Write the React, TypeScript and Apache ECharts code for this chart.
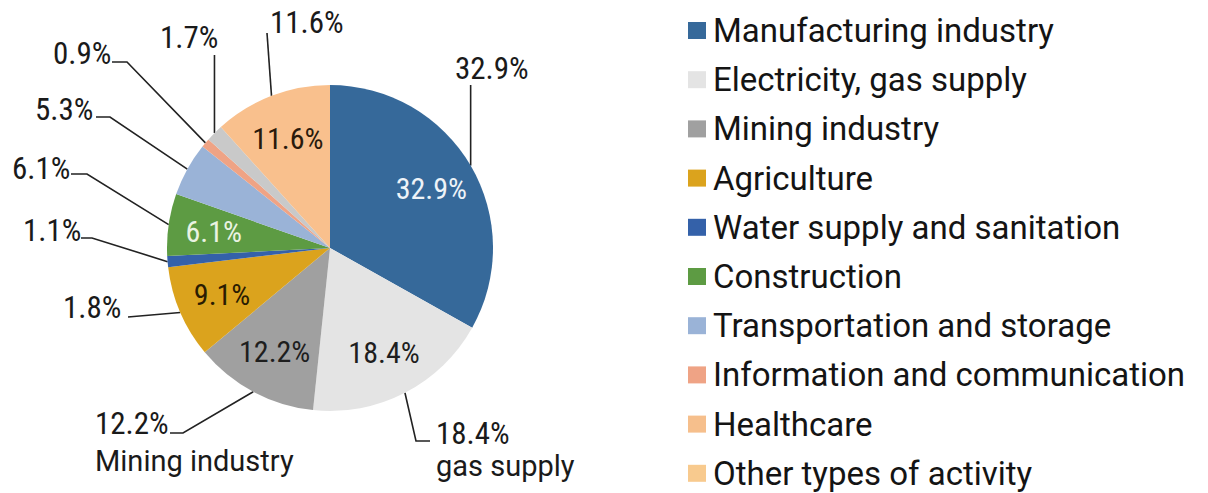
import React, { useEffect, useRef } from "react";
import * as echarts from "echarts";

const categories = [
  "Manufacturing industry",
  "Electricity, gas supply",
  "Mining industry",
  "Agriculture",
  "Water supply and sanitation",
  "Construction",
  "Transportation and storage",
  "Information and communication",
  "Healthcare",
  "Other types of activity",
];
const shares = [32.9, 18.4, 12.2, 9.1, 1.1, 6.1, 5.3, 0.9, 1.7, 11.6];
const innerLabels = ["32.9%", "18.4%", "12.2%", "9.1%", "", "6.1%", "", "", "", "11.6%"];
const outerValueLabels = ["32.9%", "18.4%", "12.2%", "1.8%", "1.1%", "6.1%", "5.3%", "0.9%", "1.7%", "11.6%"];
const outerNameLabels = ["", "gas supply", "Mining industry", "", "", "", "", "", "", ""];

const sliceColors = ["#36699A", "#E4E4E4", "#A0A0A0", "#DBA31D", "#3461A9", "#5D9B43", "#9AB3D7", "#EFA385", "#C9C9C9", "#F9C08D"];
const legendColors = ["#36699A", "#E4E4E4", "#A0A0A0", "#DBA31D", "#3461A9", "#5D9B43", "#9AB3D7", "#EFA385", "#F6BF8C", "#F8CA8E"];
const innerLabelColors = ["#EEF3F8", "#1E1E1E", "#1E1E1E", "#2A1C02", "#1E1E1E", "#EAF3E2", "#1E1E1E", "#1E1E1E", "#1E1E1E", "#2A1A0C"];

const PCT_FONT = "'Liberation Sans Narrow', 'Roboto Condensed', 'DejaVu Sans Condensed', Roboto, sans-serif";
const TXT_FONT = "Roboto, 'Noto Sans', sans-serif";

type Pt = number[];
// label placement: left x, y (middle or top), and leader line elbows (edge point comes from the pie layout)
const labelPlacement: { x: number; y: number; va: string; pts: (e: Pt) => Pt[] }[] = [
  { x: 455, y: 68.5, va: "middle", pts: (e) => [e, [e[0], 85]] },
  { x: 436, y: 417, va: "top", pts: (e) => [e, [416, 441], [430, 441]] },
  { x: 95, y: 407, va: "top", pts: (e) => [e, [183, 433], [170, 433]] },
  { x: 63, y: 307, va: "middle", pts: (e) => [e, [128, 317]] },
  { x: 23, y: 230, va: "middle", pts: (e) => [e, [92, 238], [81, 238]] },
  { x: 12, y: 168, va: "middle", pts: (e) => [e, [87, 174], [71, 174]] },
  { x: 35, y: 109, va: "middle", pts: (e) => [e, [110, 117], [96, 117]] },
  { x: 53, y: 53, va: "middle", pts: (e) => [e, [127, 62], [112, 62]] },
  { x: 160, y: 37.5, va: "middle", pts: (e) => [e, [e[0], 55]] },
  { x: 270, y: 22, va: "middle", pts: (e) => [e, [267, 33]] },
];

const CENTER = [330, 248];
const RADIUS = 163;

export default function App() {
  const ref = useRef<HTMLDivElement>(null);
  useEffect(() => {
    if (!ref.current) return;
    const chart = echarts.init(ref.current, null, { renderer: "svg" });
    const option: any = {
      animation: false,
      backgroundColor: "#ffffff",
      legend: {
        orient: "vertical",
        left: 688,
        top: 14,
        height: 486,
        padding: 0,
        itemWidth: 18,
        itemHeight: 17,
        itemGap: 16.2,
        icon: "rect",
        selectedMode: false,
        textStyle: { fontFamily: TXT_FONT, fontSize: 33, color: "#141414", lineHeight: 32, padding: [0, 0, 0, 2] },
        data: categories.map((name, i) => ({ name, itemStyle: { color: legendColors[i] } })),
      },
      series: [
        {
          type: "pie",
          name: "main",
          center: CENTER,
          radius: [0, RADIUS],
          startAngle: 90,
          clockwise: true,
          avoidLabelOverlap: false,
          silent: true,
          itemStyle: { borderWidth: 0 },
          emphasis: { disabled: true },
          data: categories.map((name, i) => ({
            name,
            value: shares[i],
            itemStyle: { color: sliceColors[i] },
          })),
          label: {
            show: true,
            position: "outside",
            formatter: (p: any) => {
              const i = p.dataIndex;
              const v = `{p|${outerValueLabels[i]}}`;
              if (outerNameLabels[i]) {
                return v + "\n" + `{${i === 2 ? "n2" : "n1"}|${outerNameLabels[i]}}`;
              }
              return v;
            },
            rich: {
              p: { fontFamily: PCT_FONT, fontSize: 31, color: "#1A1A1A", lineHeight: 32 },
              n1: { fontFamily: TXT_FONT, fontSize: 29, color: "#1A1A1A", lineHeight: 34 },
              n2: { fontFamily: TXT_FONT, fontSize: 29, color: "#1A1A1A", lineHeight: 44 },
            },
          },
          labelLine: { show: true, length: 10, length2: 10, lineStyle: { color: "#222222", width: 1.6 } },
          labelLayout: (params: any) => {
            const i = params.dataIndex;
            const pl = labelPlacement[i];
            const e = params.labelLinePoints && params.labelLinePoints[0] ? params.labelLinePoints[0] : [CENTER[0], CENTER[1]];
            return {
              x: pl.x,
              y: pl.y,
              align: "left",
              verticalAlign: pl.va,
              labelLinePoints: pl.pts(e),
            };
          },
        },
        {
          type: "pie",
          name: "inner",
          center: CENTER,
          radius: [66, RADIUS],
          startAngle: 90,
          clockwise: true,
          silent: true,
          z: 5,
          emphasis: { disabled: true },
          itemStyle: { color: "rgba(0,0,0,0)", borderWidth: 0 },
          data: categories.map((name, i) => ({
            name,
            value: shares[i],
            label: { color: innerLabelColors[i] },
          })),
          label: {
            show: true,
            position: "inside",
            fontFamily: PCT_FONT,
            fontSize: 30,
            formatter: (p: any) => innerLabels[p.dataIndex],
          },
          labelLine: { show: false },
        },
      ],
    };
    chart.setOption(option);
    return () => chart.dispose();
  }, []);
  return (
    <div
      ref={ref}
      style={{ position: "absolute", left: 0, top: 0, width: 1208, height: 493, background: "#fff" }}
    />
  );
}
